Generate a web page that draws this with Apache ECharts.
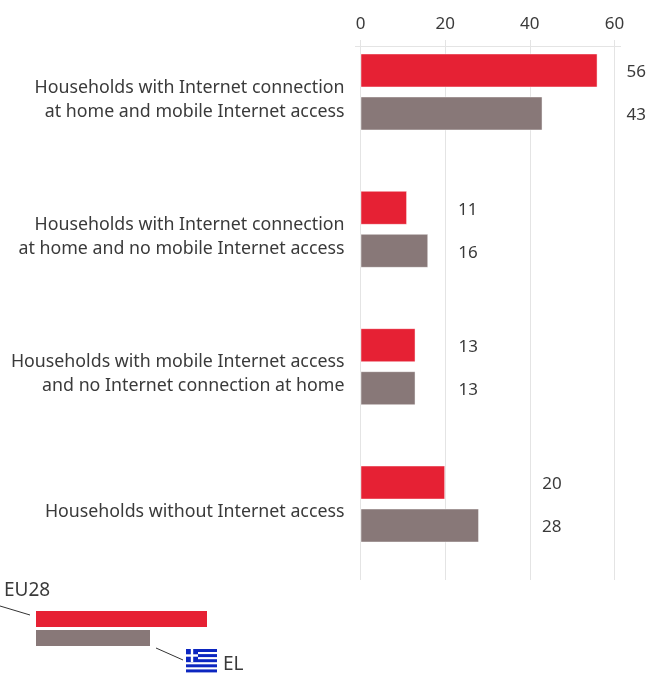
<!DOCTYPE html>
<html>
<head>
<meta charset="utf-8">
<style>html,body{margin:0;padding:0;background:#fff}</style>
<script src="https://cdn.jsdelivr.net/npm/echarts@6/dist/echarts.min.js"></script>
</head>
<body>
<div id="chart" style="width:648px;height:673px"></div>
<script>
var categories = [
	'Households with Internet connection\nat home and mobile Internet access',
	'Households with Internet connection\nat home and no mobile Internet access',
	'Households with mobile Internet access\nand no Internet connection at home',
	'Households without Internet access'
];
var eu28 = [56, 11, 13, 20];
var el = [43, 16, 13, 28];
var axisTicks = [0, 20, 40, 60];

// labels do not sit next to the bars in the original, distance in px per bar
var eu28LabelGap = [29, 51, 43, 97];
var elLabelGap = [84, 30, 43, 63];

var RED = '#e62134', GREY = '#887878', TEXT = '#3a3a3a', FONT = '"Noto Sans"';
var BAR_EDGE = 'rgba(255,255,255,0.45)';

function barData(values, gaps) {
	return values.map(function(v, i) {
		return {value: v, label: {distance: gaps[i]}};
	});
}

function flag(x, y) {
	var blue = '#0c26c0', out = [];
	for (var i = 0; i < 5; i++) {
		out.push({type: 'rect', shape: {x: x, y: y + i * 5.1, width: 31, height: 3}, style: {fill: blue}});
	}
	out.push({type: 'rect', shape: {x: x, y: y, width: 12, height: 13}, style: {fill: blue}});
	out.push({type: 'rect', shape: {x: x + 4.8, y: y, width: 2.4, height: 13}, style: {fill: '#fff'}});
	out.push({type: 'rect', shape: {x: x, y: y + 5.3, width: 12, height: 2.4}, style: {fill: '#fff'}});
	return out;
}

var chart = echarts.init(document.getElementById('chart'));
var option = {
	animation: false,
	textStyle: {fontFamily: FONT},
	// 0: bars, 1: tick labels and vertical lines, 2: category labels (sit a bit under the bars' centre)
	grid: [
		{left: 360.5, width: 254, top: 23.3, height: 549.4},
		{left: 360.5, width: 254, top: 40, height: 540},
		{left: 360.5, width: 254, top: 30.8, height: 549.4}
	],
	xAxis: [
		{type: 'value', gridIndex: 0, min: 0, max: 60, show: false},
		{
			type: 'value', gridIndex: 1, position: 'top', min: 0, max: 60, interval: axisTicks[1],
			axisLine: {show: false},
			axisTick: {show: false},
			axisLabel: {color: TEXT, fontSize: 17, fontFamily: FONT, margin: 7},
			splitLine: {show: true, lineStyle: {color: '#e4e4e4', width: 1}}
		},
		{type: 'value', gridIndex: 2, min: 0, max: 60, show: false}
	],
	yAxis: [
		{
			type: 'category', gridIndex: 0, inverse: true, data: categories,
			axisLine: {show: false},
			axisTick: {show: false},
			axisLabel: {show: false}
		},
		{type: 'value', gridIndex: 1, show: false},
		{
			type: 'category', gridIndex: 2, inverse: true, data: categories,
			axisLine: {show: false},
			axisTick: {show: false},
			axisLabel: {color: TEXT, fontSize: 17.8, fontFamily: FONT, lineHeight: 24, margin: 16, align: 'right'}
		}
	],
	series: [
		{
			name: 'EU28', type: 'bar', xAxisIndex: 0, yAxisIndex: 0, data: barData(eu28, eu28LabelGap),
			barWidth: 34, barGap: '26.5%',
			itemStyle: {color: RED, borderColor: BAR_EDGE, borderWidth: 1},
			label: {show: true, position: 'right', color: TEXT, fontSize: 17, fontFamily: FONT, offset: [0, 2]}
		},
		{
			name: 'EL', type: 'bar', xAxisIndex: 0, yAxisIndex: 0, data: barData(el, elLabelGap),
			barWidth: 34,
			itemStyle: {color: GREY, borderColor: BAR_EDGE, borderWidth: 1},
			label: {show: true, position: 'right', color: TEXT, fontSize: 17, fontFamily: FONT, offset: [0, 2]}
		}
	],
	graphic: [
		{type: 'line', shape: {x1: 355, y1: 46.5, x2: 621, y2: 46.5}, style: {stroke: '#e4e4e4', lineWidth: 1}},
		{type: 'rect', shape: {x: 36, y: 611, width: 171, height: 16}, style: {fill: RED}},
		{type: 'rect', shape: {x: 36, y: 630, width: 114, height: 16}, style: {fill: GREY}},
		{type: 'line', shape: {x1: 0, y1: 606, x2: 30, y2: 615}, style: {stroke: '#333', lineWidth: 1}},
		{type: 'line', shape: {x1: 156, y1: 648, x2: 183, y2: 660}, style: {stroke: '#333', lineWidth: 1}},
		{type: 'text', x: 4, y: 591, style: {text: 'EU28', fill: TEXT, font: '19px ' + FONT, textVerticalAlign: 'middle'}},
		{type: 'text', x: 223, y: 665, style: {text: 'EL', fill: TEXT, font: '19px ' + FONT, textVerticalAlign: 'middle'}}
	].concat(flag(186, 649))
};
chart.setOption(option);
</script>
</body>
</html>
